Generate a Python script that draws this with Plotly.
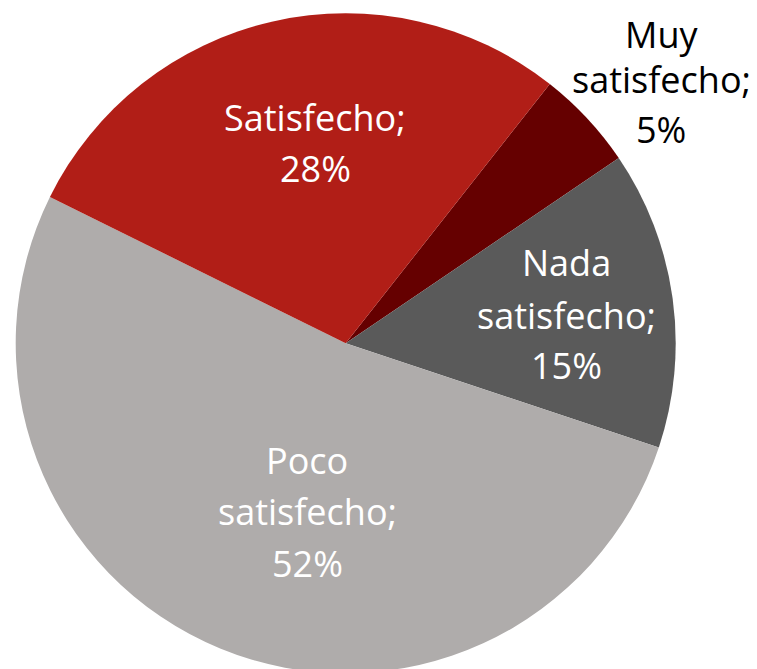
import plotly.graph_objects as go

# Data
categories = ["Muy satisfecho", "Nada satisfecho", "Poco satisfecho", "Satisfecho"]
values = [4.9, 14.6, 52.2, 28.3]
colors = ["#650000", "#5A5A5A", "#AFACAB", "#B11E17"]

# Label text lines (per category)
label_lines = {
    "Muy satisfecho": ["Muy", "satisfecho;", "5%"],
    "Nada satisfecho": ["Nada", "satisfecho;", "15%"],
    "Poco satisfecho": ["Poco", "satisfecho;", "52%"],
    "Satisfecho": ["Satisfecho;", "28%"],
}

W, H = 757, 669
OFF = 8.0  # page body margin offset
cx, cy, R = 345.7 - OFF, 343.3 - OFF, 330.0  # pixel geometry inside figure (top-left origin)

fig = go.Figure(go.Pie(
    labels=categories,
    values=values,
    sort=False,
    direction="clockwise",
    rotation=38.2,
    marker=dict(colors=colors, line=dict(width=0)),
    textinfo="none",
    hoverinfo="label+percent",
    showlegend=False,
    domain=dict(x=[max(0, (cx - R) / W), min(1, (cx + R) / W)],
                y=[max(0, (H - cy - R) / H), min(1, (H - cy + R) / H)]),
))

# label placement (page pixel centers, top-left origin)
label_pos = {
    "Muy satisfecho": (661, [34, 80, 129], "black"),
    "Nada satisfecho": (566, [262, 315, 366], "white"),
    "Poco satisfecho": (307, [461, 511, 563], "white"),
    "Satisfecho": (315, [118, 169], "white"),
}

annotations = []
for cat in categories:
    x, ys, col = label_pos[cat]
    for line, y in zip(label_lines[cat], ys):
        annotations.append(dict(
            x=(x - OFF) / W, y=1 - (y - OFF) / H, xref="paper", yref="paper",
            text=line, showarrow=False, xanchor="center", yanchor="middle",
            font=dict(family="Open Sans", size=36, color=col),
        ))

fig.update_layout(
    width=W, height=H,
    margin=dict(l=0, r=0, t=0, b=0),
    paper_bgcolor="white", plot_bgcolor="white",
    annotations=annotations,
)

fig.write_html("out.html")
